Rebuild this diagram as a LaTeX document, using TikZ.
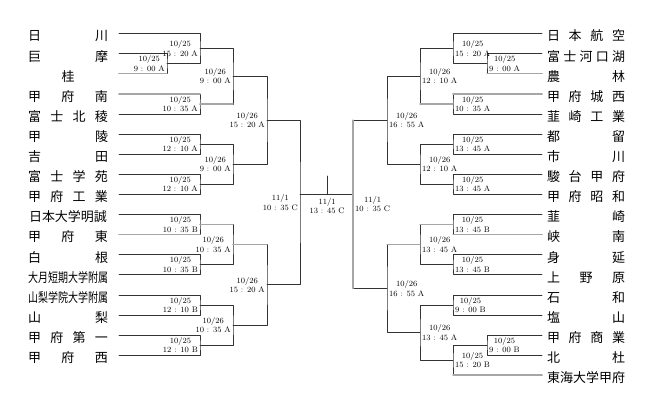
\documentclass[tikz,border=0pt]{standalone}
\usepackage{fontspec}
\usepackage{graphicx}
\newfontfamily\jpfont{Noto Sans CJK JP}

\begin{document}
\begin{tikzpicture}[x=1pt, y=-1pt, line join=round, line cap=round,
	bline/.style={draw=black!80, line width=0.6pt},
	winline/.style={draw=black!35, line width=1.5pt},
	teamL/.style={inner sep=0pt, text height=14.8pt, text depth=0pt, outer xsep=11pt, font=\jpfont\fontsize{13}{13}\selectfont},
	teamR/.style={teamL, outer xsep=5pt},
	dateL/.style={anchor=east, inner sep=2pt, align=center, font=\fontsize{8}{9.3}\selectfont},
	dateR/.style={dateL, anchor=west}]
	\useasboundingbox (0,0) rectangle (654,410);
	% teams
	\foreach \t [count=\i] in {日\hfill 川, 巨\hfill 摩, 桂, 甲\hfill 府\hfill 南, 富\hfill 士\hfill 北\hfill 稜,
		甲\hfill 陵, 吉\hfill 田, 富\hfill 士\hfill 学\hfill 苑, 甲\hfill 府\hfill 工\hfill 業, 日本大学明誠,
		甲\hfill 府\hfill 東, 白\hfill 根, \resizebox{80pt}{\height}{大月短期大学附属},
		\resizebox{80pt}{\height}{山梨学院大学附属}, 山\hfill 梨, 甲\hfill 府\hfill 第\hfill 一, 甲\hfill 府\hfill 西}
		\node[teamL] (L\i) at (68,{33.5+20.1*(\i-1)}) {\makebox[80pt]{\t}};
	\foreach \t [count=\i] in {日\hfill 本\hfill 航\hfill 空, 富\hfill 士\hfill 河\hfill 口\hfill 湖, 農\hfill 林,
		甲\hfill 府\hfill 城\hfill 西, 韮\hfill 崎\hfill 工\hfill 業, 都\hfill 留, 市\hfill 川, 駿\hfill 台\hfill 甲\hfill 府,
		甲\hfill 府\hfill 昭\hfill 和, 韮\hfill 崎, 峡\hfill 南, 身\hfill 延, 上\hfill 野\hfill 原, 石\hfill 和,
		塩\hfill 山, 甲\hfill 府\hfill 商\hfill 業, 北\hfill 杜, 東海大学甲府}
		\node[teamR] (R\i) at (586,{33.5+20.1*(\i-1)}) {\makebox[78pt]{\t}};
	% match points
	\path
	(167,63.65) coordinate (p1)
	(200,48.58) coordinate (a1)
	(200,103.85) coordinate (a2)
	(200,144.05) coordinate (a3)
	(200,184.25) coordinate (a4)
	(200,224.45) coordinate (a5)
	(200,264.65) coordinate (a6)
	(200,304.85) coordinate (a7)
	(200,345.05) coordinate (a8)
	(233,76.21) coordinate (b1)
	(233,164.15) coordinate (b2)
	(233,244.55) coordinate (b3)
	(233,324.95) coordinate (b4)
	(267,120.18) coordinate (c1)
	(267,284.75) coordinate (c2)
	(300,202.47) coordinate (d1)
	(487,63.65) coordinate (q1)
	(487,345.05) coordinate (q2)
	(453,48.58) coordinate (r1)
	(453,103.85) coordinate (r2)
	(453,144.05) coordinate (r3)
	(453,184.25) coordinate (r4)
	(453,224.45) coordinate (r5)
	(453,264.65) coordinate (r6)
	(453,304.85) coordinate (r7)
	(453,360.13) coordinate (r8)
	(420,76.21) coordinate (s1)
	(420,164.15) coordinate (s2)
	(420,244.55) coordinate (s3)
	(420,332.49) coordinate (s4)
	(387,120.18) coordinate (t1)
	(387,288.52) coordinate (t2)
	(353,204.35) coordinate (u1)
	(300,194) coordinate (fL)
	(353,194) coordinate (fR)
	(327,194) coordinate (fC)
	(327,176) coordinate (fT)
	;
	% left bracket
	\draw[bline] (L2.east) -| (p1) |- (L3.east);
	\draw[bline] (L1.east) -| (a1) |- (p1);
	\draw[bline] (L4.east) -| (a2) |- (L5.east);
	\draw[bline] (L6.east) -| (a3) |- (L7.east);
	\draw[bline] (L8.east) -| (a4) |- (L9.east);
	\draw[bline] (L10.east) -| (a5) |- (L11.east);
	\draw[bline] (L12.east) -| (a6) |- (L13.east);
	\draw[bline] (L14.east) -| (a7) |- (L15.east);
	\draw[bline] (L16.east) -| (a8) |- (L17.east);
	\draw[bline] (a1) -| (b1) |- (a2);
	\draw[bline] (a3) -| (b2) |- (a4);
	\draw[bline] (a5) -| (b3) |- (a6);
	\draw[bline] (a7) -| (b4) |- (a8);
	\draw[bline] (b1) -| (c1) |- (b2);
	\draw[bline] (b3) -| (c2) |- (b4);
	\draw[bline] (c1) -| (d1) |- (c2);
	% right bracket
	\draw[bline] (R2.west) -| (q1) |- (R3.west);
	\draw[bline] (R1.west) -| (r1) |- (q1);
	\draw[bline] (R4.west) -| (r2) |- (R5.west);
	\draw[bline] (R6.west) -| (r3) |- (R7.west);
	\draw[bline] (R8.west) -| (r4) |- (R9.west);
	\draw[bline] (R10.west) -| (r5) |- (R11.west);
	\draw[bline] (R12.west) -| (r6) |- (R13.west);
	\draw[bline] (R14.west) -| (r7) |- (R15.west);
	\draw[bline] (R16.west) -| (q2) |- (R17.west);
	\draw[bline] (q2) -| (r8) |- (R18.west);
	\draw[bline] (r1) -| (s1) |- (r2);
	\draw[bline] (r3) -| (s2) |- (r4);
	\draw[bline] (r5) -| (s3) |- (r6);
	\draw[bline] (r7) -| (s4) |- (r8);
	\draw[bline] (s1) -| (t1) |- (s2);
	\draw[bline] (s3) -| (t2) |- (s4);
	\draw[bline] (t1) -| (u1) |- (t2);
	% final
	\draw[bline] (fL) -- (fR);
	\draw[bline] (fC) -- (fT);
	% winners
	\draw[winline] (L3.east) -- (L3.east -| p1);
	\draw[winline] (L4.east) -- (L4.east -| a2);
	\draw[winline] (a2) -- (a2 -| b1);
	\draw[winline] (L11.east) -- (L11.east -| a5);
	\draw[winline] (a5) -- (a5 -| b3);
	\draw[winline] (b3) -- (b3 -| c2);
	\draw[winline] (R3.west) -- (R3.west -| q1);
	\draw[winline] (R4.west) -- (R4.west -| r2);
	\draw[winline] (r2) -- (r2 -| s1);
	\draw[winline] (R11.west) -- (R11.west -| r5);
	\draw[winline] (r5) -- (r5 -| s3);
	\draw[winline] (s3) -- (s3 -| t2);
	\draw[winline] (R18.west) -- (R18.west -| r8);
	\draw[winline] (t1 -| u1) -- (t2 -| u1);
	% dates
	\node[dateL] (p1d) at (p1) {10/25\\9 : 00 A};
	\node[dateL] (a1d) at (a1) {10/25\\15 : 20 A};
	\node[dateL] (a2d) at (a2) {10/25\\10 : 35 A};
	\node[dateL] (a3d) at (a3) {10/25\\12 : 10 A};
	\node[dateL] (a4d) at (a4) {10/25\\12 : 10 A};
	\node[dateL] (a5d) at (a5) {10/25\\10 : 35 B};
	\node[dateL] (a6d) at (a6) {10/25\\10 : 35 B};
	\node[dateL] (a7d) at (a7) {10/25\\12 : 10 B};
	\node[dateL] (a8d) at (a8) {10/25\\12 : 10 B};
	\node[dateL] (b1d) at (b1) {10/26\\9 : 00 A};
	\node[dateL] (b2d) at (b2) {10/26\\9 : 00 A};
	\node[dateL] (b3d) at (b3) {10/26\\10 : 35 A};
	\node[dateL] (b4d) at (b4) {10/26\\10 : 35 A};
	\node[dateL] (c1d) at (c1) {10/26\\15 : 20 A};
	\node[dateL] (c2d) at (c2) {10/26\\15 : 20 A};
	\node[dateL] (d1d) at (d1) {11/1\\10 : 35 C};
	\node[dateR] (q1d) at (q1) {10/25\\9 : 00 A};
	\node[dateR] (q2d) at (q2) {10/25\\9 : 00 B};
	\node[dateR] (r1d) at (r1) {10/25\\15 : 20 A};
	\node[dateR] (r2d) at (r2) {10/25\\10 : 35 A};
	\node[dateR] (r3d) at (r3) {10/25\\13 : 45 A};
	\node[dateR] (r4d) at (r4) {10/25\\13 : 45 A};
	\node[dateR] (r5d) at (r5) {10/25\\13 : 45 B};
	\node[dateR] (r6d) at (r6) {10/25\\13 : 45 B};
	\node[dateR] (r7d) at (r7) {10/25\\9 : 00 B};
	\node[dateR] (r8d) at (r8) {10/25\\15 : 20 B};
	\node[dateR] (s1d) at (s1) {10/26\\12 : 10 A};
	\node[dateR] (s2d) at (s2) {10/26\\12 : 10 A};
	\node[dateR] (s3d) at (s3) {10/26\\13 : 45 A};
	\node[dateR] (s4d) at (s4) {10/26\\13 : 45 A};
	\node[dateR] (t1d) at (t1) {10/26\\16 : 55 A};
	\node[dateR] (t2d) at (t2) {10/26\\16 : 55 A};
	\node[dateR] (u1d) at (u1) {11/1\\10 : 35 C};
	\node[dateL, anchor=north, yshift=-2pt] (fCd) at (fC) {11/1\\13 : 45 C};
\end{tikzpicture}
\end{document}
